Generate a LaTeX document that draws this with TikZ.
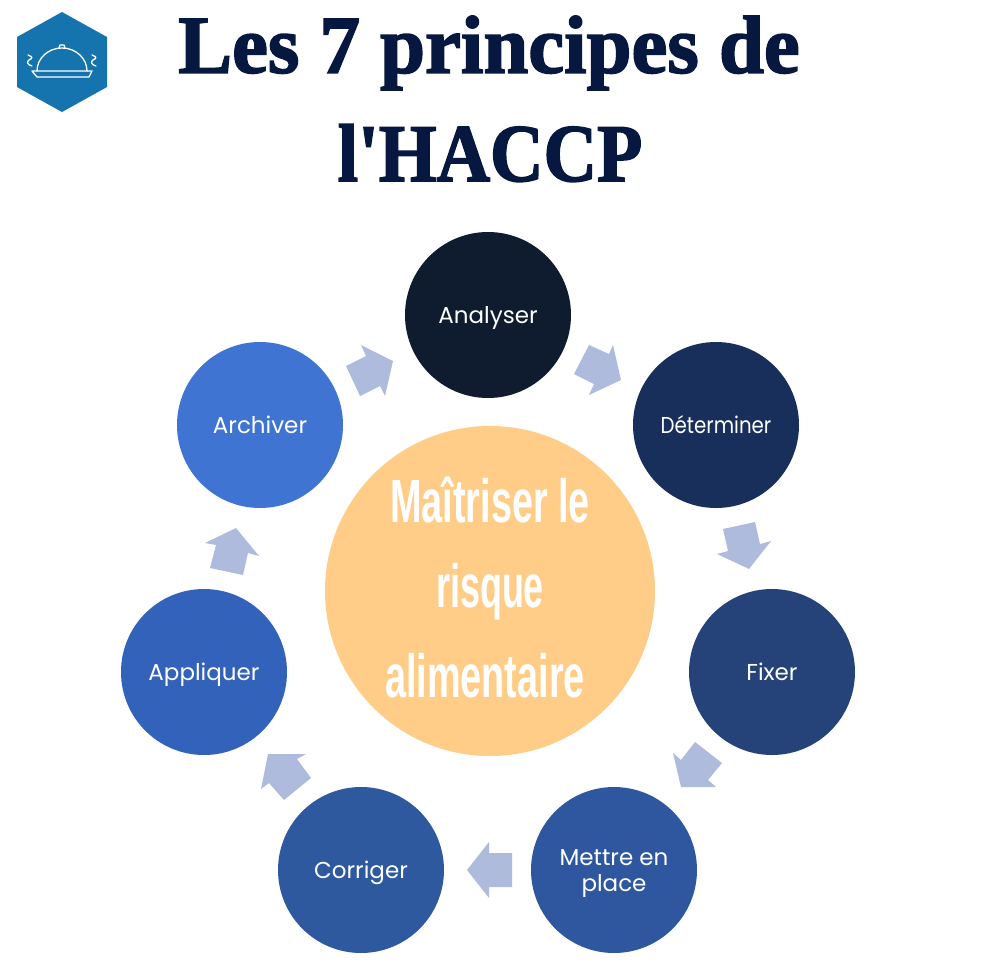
\documentclass[tikz,border=0pt]{standalone}
\usepackage{fontspec}
\setmainfont{Liberation Serif}
\newfontfamily\titlefont{Liberation Serif}
\newfontfamily\nodefont{Poppins}
\newfontfamily\narrowfont{Liberation Sans}
\definecolor{arrowc}{HTML}{AEBBDC}
\definecolor{hexc}{HTML}{1573AE}
\definecolor{titlec}{HTML}{06183F}
\definecolor{centerc}{HTML}{FFCD87}
\definecolor{sa}{HTML}{0F1C30}
\definecolor{sb}{HTML}{182F5B}
\definecolor{sc}{HTML}{254379}
\definecolor{sd}{HTML}{2E579F}
\definecolor{se}{HTML}{2E599F}
\definecolor{sf}{HTML}{3262BA}
\definecolor{sg}{HTML}{3F74D2}
\newcommand{\stepline}[1]{\raisebox{-8pt}[8pt][8pt]{#1}}
\tikzset{
  x=1pt,y=-1pt,
  step circle/.style={circle,minimum size=166pt,inner sep=0pt,align=center,text=white,
    font=\nodefont\fontsize{23}{26}\selectfont},
  flow arrow/.style={fill=arrowc,draw=none},
  icon line/.style={draw=white,line width=1.3pt,line cap=round,line join=round},
  title text/.style={text=titlec,inner sep=0pt,font=\titlefont\fontsize{82}{86}\selectfont\bfseries\addfontfeature{FakeBold=2}},
  center text/.style={text=white,inner sep=0pt,font=\narrowfont\bfseries\fontsize{61}{63}\selectfont},
}
\begin{document}
\begin{tikzpicture}
\useasboundingbox (0,0) rectangle (980,980);
\fill[white] (0,0) rectangle (980,980);
% logo
\fill[hexc] (62,12)--(107,37)--(107,87)--(62,112)--(17,87)--(17,37)--cycle;
\draw[icon line] (37,71) arc[start angle=180,end angle=360,x radius=25,y radius=23];
\draw[icon line] (32,71)--(92,71)--(89,77)--(37,77)--cycle;
\draw[icon line] (59,48)--(60,45)--(64,45)--(65,48);
\draw[icon line] (28,55) .. controls (33,57) and (33,58) .. (29,60) .. controls (26,62) and (28,65) .. (32,66);
\draw[icon line] (92,55) .. controls (97,57) and (97,58) .. (93,60) .. controls (90,62) and (92,65) .. (96,66);
% title
\node[title text] (t1) at (489,53) {\scalebox{0.985}[1]{Les 7 principes de}};
\node[title text] (t2) at (490,153) {\scalebox{0.904}[1]{l'HACCP}};
% center
\node[circle,fill=centerc,minimum size=330pt,inner sep=0pt] (center) at (490,591) {};
\node[center text] (c1) at (490,500) {\scalebox{0.62}[1]{Maîtriser le}};
\node[center text] (c2) at (490,592) {\scalebox{0.59}[1]{risque}};
\node[center text] (c3) at (485,676) {\scalebox{0.62}[1]{alimentaire}};
% steps
\node[step circle,fill=sa] (n1) at (488,315) {\stepline{Analyser}};
\node[step circle,fill=sb] (n2) at (716,425) {\stepline{\scalebox{0.86}[1]{Déterminer}}};
\node[step circle,fill=sc] (n3) at (772,672) {\stepline{Fixer}};
\node[step circle,fill=sd] (n4) at (614,870) {\stepline{Mettre en}\\\stepline{place}};
\node[step circle,fill=se] (n5) at (361,870) {\stepline{Corriger}};
\node[step circle,fill=sf] (n6) at (204,672) {\stepline{Appliquer}};
\node[step circle,fill=sg] (n7) at (260,425) {\stepline{Archiver}};
% arrows
\fill[flow arrow] (589,345)--(609,354)--(613,345)--(621,380)--(589,395)--(594,384)--(574,374)--cycle;
\fill[flow arrow] (723,529)--(755,522)--(760,544)--(771,541)--(749,569)--(717,554)--(728,551)--cycle;
\fill[flow arrow] (695,742)--(722,763)--(708,780)--(716,787)--(681,787)--(673,753)--(681,760)--cycle;
\fill[flow arrow] (512,853)--(512,887)--(489,887)--(489,898)--(467,870)--(489,842)--(489,853)--cycle;
\fill[flow arrow] (268,754)--(306,754)--(297,759)--(311,778)--(284,800)--(269,783)--(261,789)--cycle;
\fill[flow arrow] (205,543)--(236,528)--(259,556)--(248,553)--(243,575)--(210,568)--(216,545)--cycle;
\fill[flow arrow] (361,345)--(393,361)--(385,396)--(380,386)--(360,396)--(346,366)--(366,356)--cycle;
\end{tikzpicture}
\end{document}
